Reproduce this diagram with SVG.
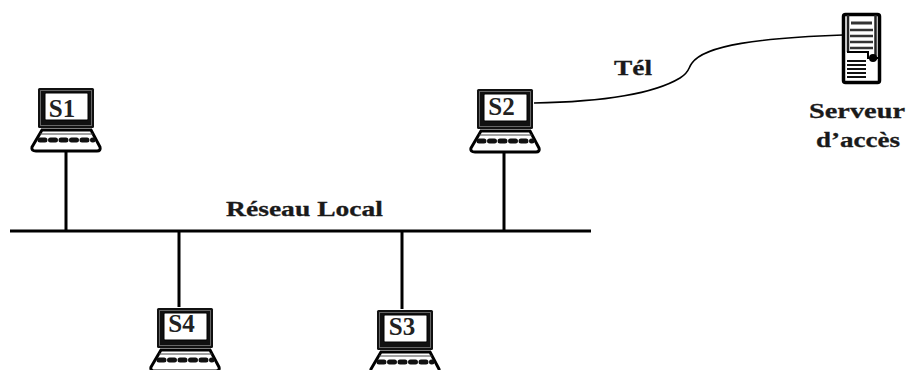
<svg xmlns="http://www.w3.org/2000/svg" width="907" height="370" viewBox="0 0 907 370">
<style>
text{font-family:"Liberation Serif",serif;font-weight:bold;fill:#1a1a1a;font-size:22px;stroke:#1a1a1a;stroke-width:.3px}
.s{font-size:25px;text-anchor:middle;fill:#222;stroke:none}
.w{fill:none;stroke:#000}
</style>
<defs>
<g id="laptop">
<rect x="1" y="1" width="56" height="40" rx="1.500" fill="#111"/>
<rect x="3.500" y="3.500" width="51" height="35" fill="none" stroke="#666" stroke-width="1"/>
<rect x="8" y="6" width="43" height="27" rx="1" fill="#fff" stroke="#000" stroke-width="1"/>
<path d="M5 43H54L63 60Q64 64 60 64H-1Q-6 64-5 60Z" fill="#fff" stroke="#000" stroke-width="3"/>
<path d="M3 47H56" stroke="#444" stroke-width="1"/>
<path d="M3 53H56" stroke="#111" stroke-width="5" stroke-linecap="round" stroke-dasharray="5 5.500"/>
</g>
</defs>
<g id="connectors">
<path class="w" stroke-width="3" d="M10 231H591M66 151V231M179 231V307M402 231V309M504 153V231"/>
<path class="w" stroke-width="1.600" d="M534 103C590 102 650 96 680 78C690 72 688 68 692 63C705 45 760 38 843 35"/>
</g>
<g id="S1"><use href="#laptop" x="37" y="87"/><text class="s" x="62" y="117">S1</text></g>
<g id="S2"><use href="#laptop" x="476" y="88"/><text class="s" x="501.500" y="115">S2</text></g>
<g id="S3"><use href="#laptop" x="376" y="309"/><text class="s" x="402" y="335">S3</text></g>
<g id="S4"><use href="#laptop" x="156" y="307"/><text class="s" x="181.500" y="332">S4</text></g>
<g id="server">
<rect x="843.500" y="14.500" width="36" height="68" rx="2" fill="#fff" stroke="#000" stroke-width="3.500"/>
<path d="M848 15V52M875.500 15V60" stroke="#222" stroke-width="2.500"/>
<path d="M851 23H872" stroke="#333" stroke-width="3"/>
<path d="M850 30H873M850 36H873M850 42H873M850 48H873" stroke="#333" stroke-width="2.500"/>
<path d="M847 52H868V58H880" fill="none" stroke="#000" stroke-width="2"/>
<circle cx="873" cy="58" r="4"/>
<path d="M847 61H866M847 65H866M847 69H866M847 73H866M847 77H866" stroke="#111" stroke-width="2.200"/>
<text x="809" y="118" textLength="96" lengthAdjust="spacingAndGlyphs">Serveur</text>
<text x="816" y="147" textLength="84" lengthAdjust="spacingAndGlyphs">d’accès</text>
</g>
<g id="labels">
<text x="226" y="216" textLength="157" lengthAdjust="spacingAndGlyphs">Réseau Local</text>
<text x="614" y="75" textLength="38" lengthAdjust="spacingAndGlyphs">Tél</text>
</g>
</svg>
